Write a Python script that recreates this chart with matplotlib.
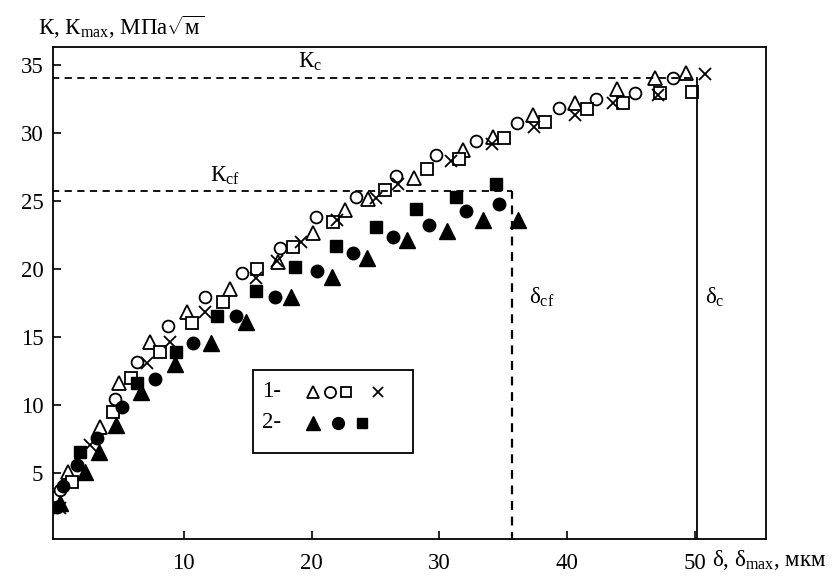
import matplotlib
matplotlib.use("Agg")
import matplotlib.pyplot as plt
from matplotlib.patches import Rectangle

plt.rcParams['font.family'] = ['Liberation Serif', 'DejaVu Serif']
plt.rcParams['mathtext.fontset'] = 'custom'
plt.rcParams['mathtext.rm'] = 'Liberation Serif'
plt.rcParams['mathtext.it'] = 'Liberation Serif:italic'

# серия 1 (светлые маркеры)
tri_x = [0.94, 3.45, 4.93, 7.36, 10.26, 13.6, 17.4, 20.1, 22.6, 24.4, 28.0, 31.9, 34.2, 37.35, 40.6, 43.9, 46.9, 49.3]
tri_y = [5.07, 8.38, 11.6, 14.6, 16.8, 18.5, 20.5, 22.6, 24.3, 25.1, 26.7, 28.75, 29.7, 31.3, 32.2, 33.2, 34.0, 34.4]
circ_x = [0.31, 4.62, 6.34, 8.77, 11.67, 14.57, 17.54, 20.36, 23.5, 26.6, 29.76, 32.9, 36.1, 39.4, 42.3, 45.3, 48.3]
circ_y = [3.75, 10.44, 13.16, 15.8, 17.94, 19.7, 21.5, 23.8, 25.3, 26.8, 28.4, 29.4, 30.7, 31.8, 32.5, 32.9, 34.0]
sq_x = [1.25, 4.46, 5.87, 8.14, 10.65, 13.08, 15.74, 18.56, 21.7, 25.76, 29.05, 31.56, 35.08, 38.3, 41.58, 44.4, 47.3, 49.8]
sq_y = [4.34, 9.49, 12.0, 13.9, 16.0, 17.6, 20.0, 21.6, 23.45, 25.8, 27.35, 28.1, 29.6, 30.8, 31.76, 32.2, 32.9, 33.0]
cross_x = [0.31, 2.66, 7.13, 8.93, 11.67, 15.66, 17.3, 19.2, 22.0, 25.06, 26.8, 30.9, 34.1, 37.4, 40.6, 43.6, 47.1, 50.8]
cross_y = [2.43, 7.06, 13.1, 14.6, 16.8, 19.3, 20.6, 22.0, 23.6, 25.2, 26.2, 27.9, 29.2, 30.4, 31.3, 32.2, 32.8, 34.3]

# серия 2 (тёмные маркеры)
ftri_x = [0.31, 2.27, 3.37, 4.7, 6.66, 9.3, 12.1, 14.88, 18.4, 21.6, 24.35, 27.5, 30.6, 33.4, 36.2]
ftri_y = [2.8, 5.07, 6.54, 8.53, 10.96, 13.0, 14.56, 16.1, 17.94, 19.4, 20.8, 22.1, 22.8, 23.6, 23.6]
fcirc_x = [0.05, 0.55, 1.64, 3.21, 5.17, 7.75, 10.73, 14.1, 17.15, 20.44, 23.26, 26.4, 29.2, 32.1, 34.7]
fcirc_y = [2.5, 4.04, 5.59, 7.57, 9.85, 11.9, 14.56, 16.54, 17.94, 19.85, 21.2, 22.35, 23.2, 24.26, 24.8]
fsq_x = [1.88, 6.34, 9.4, 12.6, 15.66, 18.7, 21.9, 25.06, 28.2, 31.3, 34.45]
fsq_y = [6.54, 11.6, 13.9, 16.5, 18.4, 20.15, 21.7, 23.1, 24.4, 25.3, 26.25]

K_c = 34.05
K_cf = 25.7
delta_c = 50.2
delta_cf = 35.7

FS = 16.5

fig = plt.figure(figsize=(8.37, 5.76), dpi=100)
ax = fig.add_axes([0.0633, 0.0642, 0.8519, 0.8542])

mfc = 'white'
ax.plot(tri_x, tri_y, '^', ms=10, mfc=mfc, mec='black', mew=1.3, ls='none')
ax.plot(circ_x, circ_y, 'o', ms=8.5, mfc=mfc, mec='black', mew=1.3, ls='none')
ax.plot(sq_x, sq_y, 's', ms=8, mfc=mfc, mec='black', mew=1.3, ls='none')
ax.plot(cross_x, cross_y, 'x', ms=8, mec='black', mew=1.3, ls='none')
ax.plot(ftri_x, ftri_y, '^', ms=11, color='black', ls='none')
ax.plot(fcirc_x, fcirc_y, 'o', ms=9, color='black', ls='none')
ax.plot(fsq_x, fsq_y, 's', ms=8, color='black', ls='none')

# уровни Kc, Kcf и δc, δcf
ax.plot([-0.3, delta_c], [K_c, K_c], 'k--', lw=1.3, dashes=(4, 3))
ax.plot([-0.3, delta_cf], [K_cf, K_cf], 'k--', lw=1.3, dashes=(4, 3))
ax.plot([delta_cf, delta_cf], [0, K_cf], 'k--', lw=1.6, dashes=(4, 3))
ax.plot([delta_c, delta_c], [0, K_c], 'k-', lw=1.3)

ax.text(19.9, 34.4, r'К$_\mathrm{c}$', fontsize=FS, ha='center', va='bottom')
ax.text(13.2, 26.0, r'К$_\mathrm{cf}$', fontsize=FS, ha='center', va='bottom')
ax.text(38.0, 17.9, r'δ$_\mathrm{cf}$', fontsize=FS, ha='center', va='center')
ax.text(51.6, 17.9, r'δ$_\mathrm{c}$', fontsize=FS, ha='center', va='center')

ax.set_xlim(-0.25, 55.6)
ax.set_ylim(0.15, 36.3)
ax.set_xticks([10, 20, 30, 40, 50])
ax.set_yticks([5, 10, 15, 20, 25, 30, 35])
ax.tick_params(direction='in', length=6, width=1.2, labelsize=FS)
ax.tick_params(axis='x', pad=10)
ax.tick_params(axis='y', pad=7)
for s in ax.spines.values():
    s.set_linewidth(1.3)

fig.text(0.045, 0.939, r'К, К$_\mathrm{max}$, МПа$\sqrt{\mathrm{м}}$', fontsize=FS, ha='left', va='baseline')
fig.text(0.851, 0.017, r'δ, δ$_\mathrm{max}$, мкм', fontsize=FS, ha='left', va='baseline')

# легенда
ax.add_patch(Rectangle((0.2805, 0.175), 0.2245, 0.1685, transform=ax.transAxes,
                       fill=False, ec='black', lw=1.3))
ax.text(0.293, 0.299, '1-', transform=ax.transAxes, fontsize=FS, va='center')
ax.text(0.293, 0.236, '2-', transform=ax.transAxes, fontsize=FS, va='center')
ax.plot([0.3647], [0.299], '^', ms=9, mfc=mfc, mec='black', mew=1.3, transform=ax.transAxes)
ax.plot([0.3885], [0.299], 'o', ms=8, mfc=mfc, mec='black', mew=1.3, transform=ax.transAxes)
ax.plot([0.411], [0.299], 's', ms=7.5, mfc=mfc, mec='black', mew=1.3, transform=ax.transAxes)
ax.plot([0.456], [0.299], 'x', ms=7.5, mec='black', mew=1.3, transform=ax.transAxes)
ax.plot([0.3647], [0.236], '^', ms=10, color='black', transform=ax.transAxes)
ax.plot([0.40], [0.236], 'o', ms=8.5, color='black', transform=ax.transAxes)
ax.plot([0.433], [0.236], 's', ms=7.5, color='black', transform=ax.transAxes)

fig.savefig('out.png', dpi=100)
